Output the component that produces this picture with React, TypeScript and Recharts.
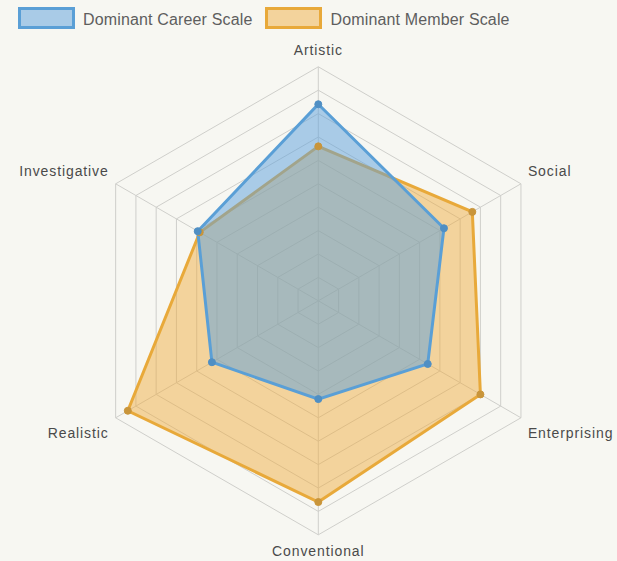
import React from 'react';
import { RadarChart, Radar, PolarGrid, PolarAngleAxis, PolarRadiusAxis, Legend } from 'recharts';

const categories = ['Artistic', 'Social', 'Enterprising', 'Conventional', 'Realistic', 'Investigative'];
const careerScale = [8.4, 6.2, 5.4, 4.2, 5.25, 5.95];
const memberScale = [6.6, 7.6, 8.0, 8.6, 9.4, 5.85];
const seriesNames = ['Dominant Career Scale', 'Dominant Member Scale'];

const data = categories.map((c, i) => ({ axis: c, career: careerScale[i], member: memberScale[i] }));

const BLUE = '#5a9fd6';
const BLUE_FILL = 'rgba(91,160,220,0.5)';
const ORANGE = '#e8a93a';
const ORANGE_FILL = 'rgba(238,172,62,0.48)';
const FONT = '"Liberation Sans", Arial, sans-serif';

const AngleTick = (props: any) => {
  const { x, y, payload, textAnchor } = props;
  const ang = (payload.coordinate * Math.PI) / 180;
  const sin = Math.sin(ang);
  const cos = Math.cos(ang);
  let dy = -4;
  if (sin < -0.01) dy = Math.abs(cos) > 0.01 ? 16.5 : 13;
  return (
    <text x={x} y={y + dy} textAnchor={textAnchor} fontSize={14} letterSpacing={0.9} fill="#4a4a4a" fontFamily={FONT}>
      {payload.value}
    </text>
  );
};

const LegendContent = () => {
  const items = [
    { name: seriesNames[0], stroke: BLUE, fill: BLUE_FILL },
    { name: seriesNames[1], stroke: ORANGE, fill: ORANGE_FILL },
  ];
  return (
    <div style={{ display: 'flex', alignItems: 'center', height: 22, fontFamily: FONT }}>
      {items.map((it, i) => (
        <div key={i} style={{ display: 'flex', alignItems: 'center', marginLeft: i === 0 ? 0 : 13 }}>
          <span style={{ display: 'inline-block', width: 51, height: 16, border: `3px solid ${it.stroke}`, background: it.fill }} />
          <span style={{ marginLeft: 8, fontSize: 16, letterSpacing: 0.15, color: '#5e5e5e', position: 'relative', top: 2 }}>{it.name}</span>
        </div>
      ))}
    </div>
  );
};

export default function App() {
  return (
    <div style={{ position: 'absolute', left: 0, top: 0, width: 617, height: 561, background: '#f7f7f2', overflow: 'hidden' }}>
      <RadarChart width={617} height={561} data={data} cx={318.3} cy={300.8} outerRadius={234} margin={{ top: 0, right: 0, bottom: 0, left: 0 }}>
        <PolarGrid gridType="polygon" stroke="#cfcfcb" strokeWidth={1} />
        <PolarAngleAxis dataKey="axis" tick={<AngleTick />} tickLine={false} axisLine={false} />
        <PolarRadiusAxis domain={[0, 10]} tickCount={11} tick={false} axisLine={false} angle={90} />
        <Radar name={seriesNames[1]} dataKey="member" stroke={ORANGE} strokeWidth={3} fill={ORANGE_FILL} fillOpacity={1}
          dot={{ r: 3.5, fill: '#c9953a', stroke: '#c9953a', strokeWidth: 1 }} isAnimationActive={false} />
        <Radar name={seriesNames[0]} dataKey="career" stroke={BLUE} strokeWidth={3} fill={BLUE_FILL} fillOpacity={1}
          dot={{ r: 3.5, fill: '#4f8fc4', stroke: '#4f8fc4', strokeWidth: 1 }} isAnimationActive={false} />
        <Legend content={<LegendContent />} verticalAlign="top" wrapperStyle={{ top: 7, left: 18, width: 600 }} />
      </RadarChart>
    </div>
  );
}
